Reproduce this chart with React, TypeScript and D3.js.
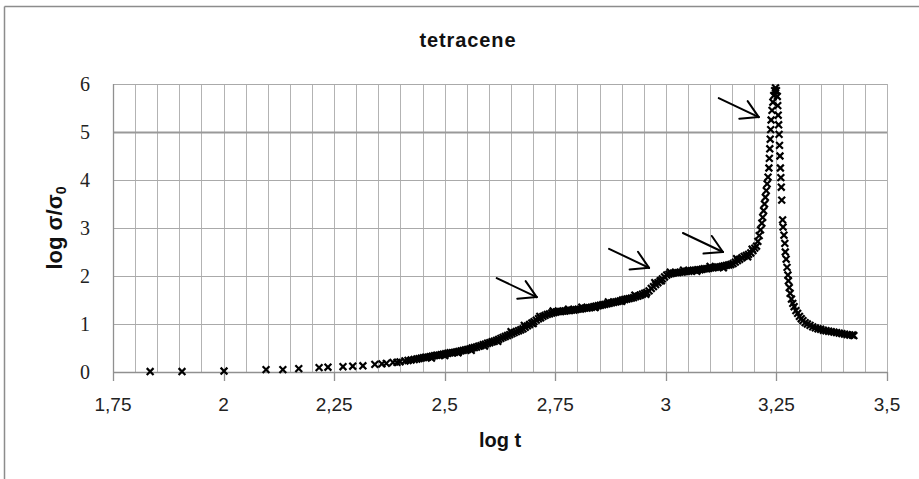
import React from "react";
import * as d3 from "d3";

// ---- data ----
const title = "tetracene";
const xTitle = "log t";
const xTicks = [1.75, 2, 2.25, 2.5, 2.75, 3, 3.25, 3.5];
const yTicks = [0, 1, 2, 3, 4, 5, 6];

// sparse early points
const earlyPoints: [number, number][] = [
  [1.834, 0.01], [1.906, 0.01], [2.001, 0.02], [2.096, 0.05], [2.134, 0.05], [2.170, 0.07],
  [2.216, 0.09], [2.236, 0.10], [2.270, 0.11], [2.292, 0.12], [2.315, 0.13], [2.342, 0.16],
  [2.358, 0.17], [2.368, 0.18], [2.383, 0.20], [2.392, 0.20], [2.399, 0.21], [2.410, 0.23],
  [2.417, 0.24], [2.424, 0.25], [2.431, 0.26], [2.437, 0.27],
];

// first shoulder (around log t = 2.7)
const shoulderPoints: [number, number][] = [
  [2.442, 0.28], [2.447, 0.29], [2.452, 0.30], [2.457, 0.31], [2.462, 0.31], [2.467, 0.32],
  [2.472, 0.33], [2.477, 0.34], [2.482, 0.35], [2.487, 0.35], [2.492, 0.36], [2.497, 0.37],
  [2.502, 0.38], [2.507, 0.39], [2.512, 0.40], [2.517, 0.40], [2.522, 0.41], [2.527, 0.42],
  [2.532, 0.43], [2.537, 0.44], [2.542, 0.45], [2.547, 0.46], [2.552, 0.47], [2.557, 0.48],
  [2.562, 0.50], [2.567, 0.51], [2.572, 0.52], [2.577, 0.54], [2.582, 0.55], [2.587, 0.57],
  [2.592, 0.58], [2.597, 0.60], [2.602, 0.61], [2.607, 0.63], [2.612, 0.64], [2.617, 0.66],
  [2.622, 0.68], [2.627, 0.70], [2.632, 0.72], [2.637, 0.74], [2.642, 0.76], [2.647, 0.78],
  [2.652, 0.80], [2.657, 0.82], [2.662, 0.84], [2.667, 0.86], [2.672, 0.88], [2.677, 0.90],
  [2.682, 0.93], [2.687, 0.96], [2.692, 0.99], [2.697, 1.02], [2.702, 1.05], [2.707, 1.08],
  [2.712, 1.11], [2.717, 1.13], [2.722, 1.16], [2.727, 1.18], [2.732, 1.20], [2.737, 1.21],
  [2.742, 1.23], [2.747, 1.24], [2.752, 1.25], [2.757, 1.26],
];

// plateau and second/third shoulders
const plateauPoints: [number, number][] = [
  [2.762, 1.26], [2.767, 1.27], [2.772, 1.27], [2.777, 1.28], [2.782, 1.28], [2.787, 1.29],
  [2.792, 1.29], [2.797, 1.30], [2.802, 1.31], [2.807, 1.31], [2.812, 1.32], [2.817, 1.33],
  [2.822, 1.33], [2.827, 1.34], [2.832, 1.35], [2.837, 1.36], [2.842, 1.37], [2.847, 1.38],
  [2.852, 1.39], [2.857, 1.40], [2.862, 1.41], [2.867, 1.42], [2.872, 1.43], [2.877, 1.44],
  [2.882, 1.45], [2.887, 1.46], [2.892, 1.47], [2.897, 1.48], [2.902, 1.50], [2.907, 1.51],
  [2.912, 1.52], [2.917, 1.53], [2.922, 1.54], [2.927, 1.55], [2.932, 1.57], [2.937, 1.58],
  [2.942, 1.60], [2.947, 1.62], [2.952, 1.64], [2.957, 1.66], [2.962, 1.69], [2.967, 1.74],
  [2.972, 1.78], [2.977, 1.82], [2.982, 1.86], [2.987, 1.90], [2.992, 1.94], [2.997, 1.98],
  [3.002, 2.02], [3.007, 2.04], [3.012, 2.05], [3.017, 2.06], [3.022, 2.07], [3.027, 2.07],
  [3.032, 2.08], [3.037, 2.08], [3.042, 2.09], [3.047, 2.10], [3.052, 2.10], [3.057, 2.11],
  [3.062, 2.12], [3.067, 2.12], [3.072, 2.13], [3.077, 2.13], [3.082, 2.14], [3.087, 2.15],
  [3.092, 2.15], [3.097, 2.16], [3.102, 2.17], [3.107, 2.17], [3.112, 2.18], [3.117, 2.19],
  [3.122, 2.19], [3.127, 2.20], [3.132, 2.21], [3.137, 2.22], [3.142, 2.23], [3.147, 2.24],
  [3.152, 2.26], [3.157, 2.29], [3.162, 2.32], [3.167, 2.35], [3.172, 2.38], [3.177, 2.41],
  [3.182, 2.43], [3.187, 2.45], [3.192, 2.48], [3.197, 2.53], [3.201, 2.58],
];

// scattered readings lying just off the main band (band thickness)
const scatterPoints: [number, number][] = [
  [2.470, 0.29], [2.500, 0.34], [2.530, 0.40], [2.560, 0.45], [2.590, 0.54], [2.620, 0.64],
  [2.650, 0.84], [2.680, 0.97], [2.700, 1.01], [2.715, 1.16], [2.745, 1.27], [2.780, 1.31],
  [2.810, 1.35], [2.840, 1.34], [2.870, 1.46], [2.900, 1.47], [2.930, 1.60], [2.955, 1.62],
  [2.975, 1.86], [2.990, 1.90], [3.010, 2.08], [3.040, 2.12], [3.070, 2.10], [3.100, 2.20],
  [3.130, 2.17], [3.160, 2.36], [3.185, 2.40], [3.195, 2.56],
];

// sharp peak
const peakPoints: [number, number][] = [
  [3.205, 2.62], [3.208, 2.72], [3.211, 2.84], [3.214, 2.96], [3.217, 3.10], [3.219, 3.22],
  [3.221, 3.36], [3.223, 3.50], [3.225, 3.64], [3.227, 3.78], [3.229, 3.92], [3.231, 4.06],
  [3.233, 4.25], [3.234, 4.45], [3.235, 4.65], [3.236, 4.85], [3.237, 5.05], [3.238, 5.25],
  [3.240, 5.45], [3.242, 5.62], [3.244, 5.76], [3.246, 5.86], [3.248, 5.92], [3.250, 5.86],
  [3.252, 5.74], [3.253, 5.55], [3.254, 5.35], [3.255, 5.15], [3.256, 4.95], [3.257, 4.72],
  [3.258, 4.50], [3.259, 4.25], [3.260, 4.05], [3.261, 3.85], [3.262, 3.58], [3.264, 3.17],
  [3.265, 3.02], [3.267, 2.85], [3.269, 2.68], [3.270, 2.50], [3.272, 2.35], [3.274, 2.18],
  [3.276, 2.02],
];

// decay tail
const tailPoints: [number, number][] = [
  [3.277, 1.90], [3.279, 1.76], [3.281, 1.64], [3.284, 1.52], [3.287, 1.43], [3.290, 1.36],
  [3.294, 1.28], [3.298, 1.22], [3.302, 1.16], [3.306, 1.11], [3.310, 1.07], [3.315, 1.03],
  [3.320, 1.00], [3.326, 0.97], [3.332, 0.94], [3.338, 0.92], [3.344, 0.90], [3.350, 0.89],
  [3.356, 0.87], [3.362, 0.86], [3.368, 0.85], [3.374, 0.84], [3.380, 0.83], [3.386, 0.82],
  [3.392, 0.81], [3.398, 0.80], [3.404, 0.79], [3.410, 0.78], [3.416, 0.77], [3.422, 0.77],
  [3.425, 0.76],
];

// annotation arrows: tip positions in data units
const arrowTips: [number, number][] = [
  [2.708, 1.56], [2.962, 2.17], [3.129, 2.50], [3.210, 5.31],
];

const W = 919;
const H = 479;

export default function App() {
  const x = d3.scaleLinear().domain([1.75, 3.5]).range([113, 887]);
  const y = d3.scaleLinear().domain([0, 6]).range([372, 84]);

  const minorX = d3.range(0, 36).map((i) => 1.75 + i * 0.05);
  const points = [
    ...earlyPoints,
    ...shoulderPoints,
    ...plateauPoints,
    ...scatterPoints,
    ...peakPoints,
    ...tailPoints,
  ];
  const fmt = (v: number) => String(v).replace(".", ",");

  const m = 3.4;
  const markerPath = `M${-m},${-m}L${m},${m}M${-m},${m}L${m},${-m}`;

  // arrow geometry (pixels relative to tip)
  const tail = [-40, -19];
  const ang = Math.atan2(tail[1], tail[0]);
  const barbLen = 19.5;
  const spread = (30 * Math.PI) / 180;
  const b1 = [Math.cos(ang + spread) * barbLen, Math.sin(ang + spread) * barbLen];
  const b2 = [Math.cos(ang - spread) * barbLen, Math.sin(ang - spread) * barbLen];

  const [x0, x1] = x.range();
  const [yb, yt] = y.range();

  return (
    <svg
      width={W}
      height={H}
      style={{ position: "absolute", left: 0, top: 0, background: "#fff" }}
    >
      <rect x={0} y={0} width={W} height={H} fill="#fff" />
      {/* outer frame */}
      <line x1={4.5} y1={6.5} x2={W} y2={6.5} stroke="#8c8c8c" strokeWidth={1.5} />
      <line x1={4.5} y1={6.5} x2={4.5} y2={H} stroke="#8c8c8c" strokeWidth={1.5} />

      {/* title */}
      <text
        x={468}
        y={47}
        textAnchor="middle"
        fontFamily="'Liberation Sans', Arial, sans-serif"
        fontWeight="bold"
        fontSize={20}
        letterSpacing={0.9}
        fill="#111"
      >
        {title}
      </text>

      {/* grid */}
      {minorX.map((v, i) => (
        <line
          key={"gx" + i}
          x1={Math.round(x(v)) + 0.5}
          x2={Math.round(x(v)) + 0.5}
          y1={yt}
          y2={yb}
          stroke="#b3b3b3"
          strokeWidth={1}
        />
      ))}
      {yTicks
        .filter((v) => v > 0)
        .map((v) => (
          <line
            key={"gy" + v}
            x1={x0}
            x2={x1}
            y1={Math.round(y(v)) + 0.5}
            y2={Math.round(y(v)) + 0.5}
            stroke={v === 5 ? "#999" : "#aaa"}
            strokeWidth={v === 5 ? 2 : 1}
          />
        ))}

      {/* axes */}
      <line x1={x0} x2={x1} y1={yb + 0.5} y2={yb + 0.5} stroke="#909090" strokeWidth={1.3} />
      <line x1={x0 + 0.5} x2={x0 + 0.5} y1={yt} y2={yb} stroke="#909090" strokeWidth={1.3} />
      {xTicks.map((v) => (
        <line
          key={"xt" + v}
          x1={Math.round(x(v)) + 0.5}
          x2={Math.round(x(v)) + 0.5}
          y1={yb}
          y2={yb + 9}
          stroke="#909090"
          strokeWidth={1.3}
        />
      ))}

      {/* x tick labels */}
      {xTicks.map((v) => (
        <text
          key={"xl" + v}
          x={x(v)}
          y={411}
          textAnchor="middle"
          fontFamily="'Liberation Sans', Arial, sans-serif"
          fontSize={19}
          fill="#222"
        >
          {fmt(v)}
        </text>
      ))}
      {/* y tick labels */}
      {yTicks.map((v) => (
        <text
          key={"yl" + v}
          x={90}
          y={y(v) + 7}
          textAnchor="end"
          fontFamily="'Liberation Serif', 'Times New Roman', serif"
          fontSize={20}
          fill="#222"
        >
          {v}
        </text>
      ))}

      {/* axis titles */}
      <text
        x={500}
        y={447}
        textAnchor="middle"
        fontFamily="'Liberation Sans', Arial, sans-serif"
        fontWeight="bold"
        fontSize={20}
        fill="#111"
      >
        {xTitle}
      </text>
      <text
        transform={`translate(62, ${(yt + yb) / 2}) rotate(-90)`}
        textAnchor="middle"
        fontFamily="'Liberation Sans', Arial, sans-serif"
        fontWeight="bold"
        fontSize={22}
        fill="#111"
      >
        log σ/σ
        <tspan fontSize={14} dy={4}>
          0
        </tspan>
      </text>

      {/* data markers */}
      {points.map(([px, py], i) => (
        <path
          key={"p" + i}
          d={markerPath}
          transform={`translate(${x(px)},${y(py)})`}
          stroke="#000"
          strokeWidth={2.2}
          fill="none"
        />
      ))}

      {/* arrows */}
      {arrowTips.map(([ax, ay], i) => {
        const tx = x(ax);
        const ty = y(ay);
        return (
          <g key={"a" + i} stroke="#000" strokeWidth={2} fill="none" strokeLinecap="round">
            <line x1={tx + tail[0]} y1={ty + tail[1]} x2={tx} y2={ty} />
            <line x1={tx} y1={ty} x2={tx + b1[0]} y2={ty + b1[1]} />
            <line x1={tx} y1={ty} x2={tx + b2[0]} y2={ty + b2[1]} />
          </g>
        );
      })}
    </svg>
  );
}
